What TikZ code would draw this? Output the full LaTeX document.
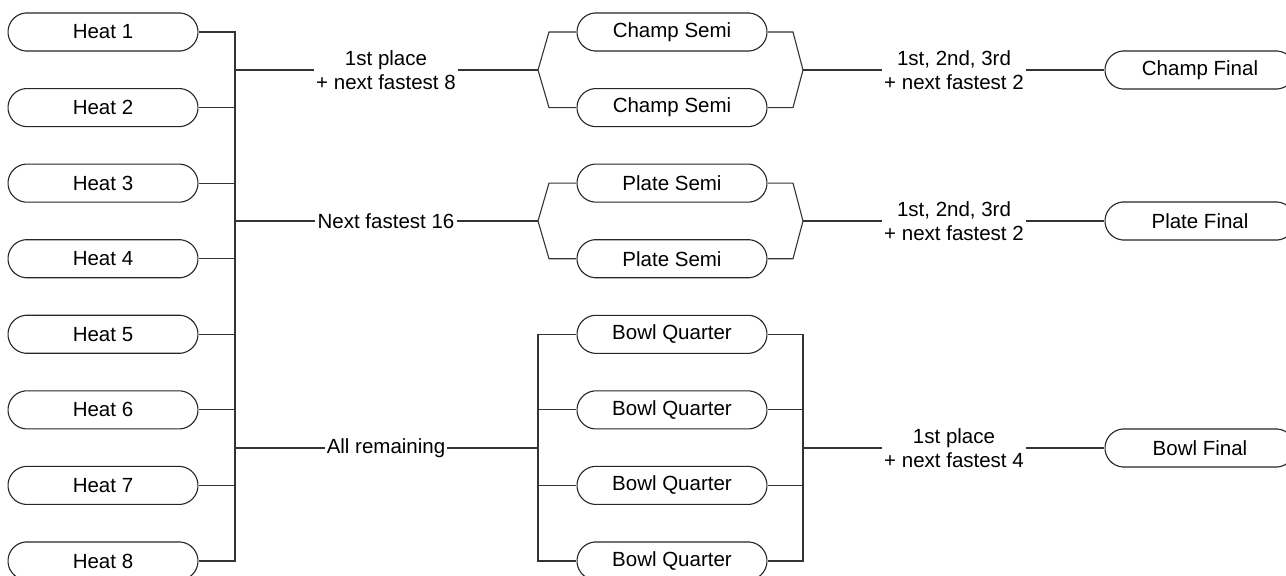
\documentclass[tikz,border=0pt]{standalone}
\usepackage{fontspec}
\setmainfont{Liberation Sans}
\usetikzlibrary{shapes.misc}
\begin{document}
\begin{tikzpicture}[x=1pt,y=-1pt,
  every node/.style={font=\fontsize{20.5}{23.5}\selectfont},
  race/.style={rounded rectangle, rounded rectangle arc length=170, draw=black!85, line width=1.1pt,
     minimum width=190pt, minimum height=38pt, inner sep=0pt},
  lbl/.style={align=center, inner sep=2pt},
  conn/.style={draw=black!80, line width=1.1pt}]
\useasboundingbox (0,0) rectangle (1286,576);
\fill[white] (0,0) rectangle (1286,576);
% heats
\foreach \i in {1,...,8}{
  \node[race] (h\i) at (103,{32+75.57*(\i-1)}) {Heat \i};
}
% semis / quarters
\node[race] (cs1) at (672,32) {Champ Semi};
\node[race] (cs2) at (672,107.6) {Champ Semi};
\node[race] (ps1) at (672,183.1) {Plate Semi};
\node[race] (ps2) at (672,258.7) {Plate Semi};
\node[race] (bq1) at (672,334.3) {Bowl Quarter};
\node[race] (bq2) at (672,409.9) {Bowl Quarter};
\node[race] (bq3) at (672,485.4) {Bowl Quarter};
\node[race] (bq4) at (672,561) {Bowl Quarter};
% finals
\node[race] (cf) at (1200,70) {Champ Final};
\node[race] (pf) at (1200,221) {Plate Final};
\node[race] (bf) at (1200,448) {Bowl Final};
% labels
\node[lbl] (l1) at (386,70) {1st place\\+ next fastest 8};
\node[lbl] (l2) at (386,221) {Next fastest 16};
\node[lbl] (l3) at (386,448) {All remaining};
\node[lbl] (r1) at (954,70) {1st, 2nd, 3rd\\+ next fastest 2};
\node[lbl] (r2) at (954,221) {1st, 2nd, 3rd\\+ next fastest 2};
\node[lbl] (r3) at (954,448) {1st place\\+ next fastest 4};
% coordinates
\coordinate (bus) at (235,0);
\coordinate (bl) at (538,0);
\coordinate (br) at (803,0);
\coordinate (blk) at (549,0);
\coordinate (brk) at (793,0);
\coordinate (ct1) at (803,70);
\coordinate (cl1) at (538,70);
\coordinate (ct2) at (803,221);
\coordinate (cl2) at (538,221);
% heat bus
\draw[conn] (h1.east) -- (h1.east -| bus) -- (h8.east -| bus) -- (h8.east);
\foreach \i in {2,...,7}{
  \draw[conn] (h\i.east) -- (h\i.east -| bus);
}
\draw[conn] (l1.west -| bus) -- (l1.west);
\draw[conn] (l2.west -| bus) -- (l2.west);
\draw[conn] (l3.west -| bus) -- (l3.west);
% champ bracket
\draw[conn] (l1.east) -- (cl1);
\draw[conn] (cs1.west) -- (cs1.west -| blk) -- (cl1) -- (cs2.west -| blk) -- (cs2.west);
\draw[conn] (cs1.east) -- (cs1.east -| brk) -- (ct1) -- (cs2.east -| brk) -- (cs2.east);
\draw[conn] (ct1) -- (r1.west);
\draw[conn] (r1.east) -- (cf.west);
% plate bracket
\draw[conn] (l2.east) -- (cl2);
\draw[conn] (ps1.west) -- (ps1.west -| blk) -- (cl2) -- (ps2.west -| blk) -- (ps2.west);
\draw[conn] (ps1.east) -- (ps1.east -| brk) -- (ct2) -- (ps2.east -| brk) -- (ps2.east);
\draw[conn] (ct2) -- (r2.west);
\draw[conn] (r2.east) -- (pf.west);
% bowl
\draw[conn] (l3.east) -- (l3.east -| bl);
\draw[conn] (bq1.west) -- (bq1.west -| bl) -- (bq4.west -| bl) -- (bq4.west);
\draw[conn] (bq2.west) -- (bq2.west -| bl);
\draw[conn] (bq3.west) -- (bq3.west -| bl);
\draw[conn] (bq1.east) -- (bq1.east -| br) -- (bq4.east -| br) -- (bq4.east);
\draw[conn] (bq2.east) -- (bq2.east -| br);
\draw[conn] (bq3.east) -- (bq3.east -| br);
\draw[conn] (r3.west -| br) -- (r3.west);
\draw[conn] (r3.east) -- (bf.west);
\end{tikzpicture}
\end{document}
